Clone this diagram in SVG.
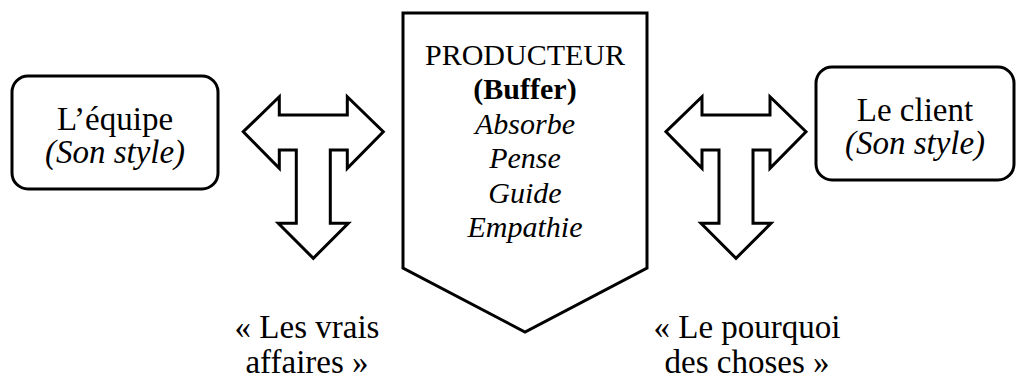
<svg xmlns="http://www.w3.org/2000/svg" width="1016" height="378" viewBox="0 0 1016 378">
  <defs>
    <style>
      .shape { fill: #ffffff; stroke: #000000; stroke-width: 3; stroke-linejoin: miter; }
      .txt { font-family: "Liberation Serif", "Times New Roman", serif; fill: #000000; text-anchor: middle; }
      .big { font-size: 33px; }
      .mid { font-size: 30px; }
      .it { font-style: italic; }
      .b { font-weight: bold; }
    </style>
    <!-- T-shaped arrow: left/right heads on a bar, with a downward stem and head; centred on x=0 -->
    <path id="tArrow" d="M -70 131.7 L -34 96.7 L -34 115 L 34 115 L 34 96.7 L 70 131.7 L 34 168.3 L 34 150 L 17 150 L 17 223.3 L 35 223.3 L 0 258.3 L -35 223.3 L -17 223.3 L -17 150 L -34 150 L -34 168.3 Z"/>
  </defs>

  <rect width="1016" height="378" fill="#ffffff"/>

  <g id="equipe">
    <rect class="shape" x="12" y="76" width="206" height="113" rx="16" ry="16"/>
    <text class="txt big" x="115" y="130">L’équipe</text>
    <text class="txt big it" x="115" y="163">(Son style)</text>
  </g>

  <g id="producteur">
    <path class="shape" d="M 403 13 L 647 13 L 647 268 L 525 332 L 403 268 Z"/>
    <text class="txt mid" x="525" y="65">PRODUCTEUR</text>
    <text class="txt mid b" x="525" y="99">(Buffer)</text>
    <text class="txt mid it" x="525" y="134">Absorbe</text>
    <text class="txt mid it" x="525" y="168">Pense</text>
    <text class="txt mid it" x="525" y="203">Guide</text>
    <text class="txt mid it" x="525" y="237">Empathie</text>
  </g>

  <g id="client">
    <rect class="shape" x="816" y="67" width="198" height="113" rx="16" ry="16"/>
    <text class="txt big" x="915" y="121">Le client</text>
    <text class="txt big it" x="915" y="154">(Son style)</text>
  </g>

  <g id="connectors">
    <use class="shape" href="#tArrow" x="313.3"/>
    <use class="shape" href="#tArrow" x="736"/>
  </g>

  <g id="labels">
    <text class="txt big" x="307" y="338">« Les vrais</text>
    <text class="txt big" x="307" y="373">affaires »</text>
    <text class="txt big" x="747" y="338">« Le pourquoi</text>
    <text class="txt big" x="747" y="373">des choses »</text>
  </g>
</svg>
